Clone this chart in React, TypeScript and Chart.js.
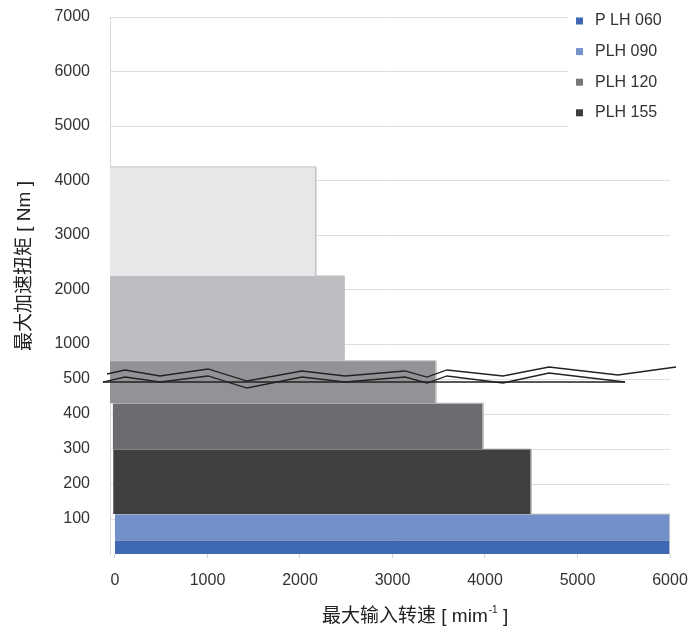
import React, { useEffect, useRef } from "react";
import { Chart, registerables } from "chart.js";

Chart.register(...registerables);

// ---- axes ----
const speedTicks = [0, 1000, 2000, 3000, 4000, 5000, 6000];
const speedTickLabels = ["0", "1000", "2000", "3000", "4000", "5000", "6000"];
const torqueTicks = [100, 200, 300, 400, 500, 1000, 2000, 3000, 4000, 5000, 6000, 7000];
const torqueTickLabels = ["100", "200", "300", "400", "500", "1000", "2000", "3000", "4000", "5000", "6000", "7000"];
// broken torque axis: torque values and their positions on the compressed axis
const breakTorque = [0, 500, 1000, 7000];
const breakAxis = [0, 5, 6, 15.343];
const speedMin = -54;
const speedMax = 6000;

// ---- bands (torque top / bottom, speed start / end) ----
const bandTop = [4250, 2250, 760, 431, 300, 114, 40];
const bandBottom = [2250, 760, 431, 300, 114, 40, 0];
const bandStart = [-54, -54, -54, -25, -20, 0, 0];
const bandEnd = [2170, 2480, 3470, 3980, 4500, 6000, 6000];
const bandColors = ["#e6e7e8", "#bcbdc0", "#929396", "#6b6c70", "#404040", "#7291c8", "#3f68b4"];

// ---- legend ----
const legendLabels = ["P LH 060", "PLH 090", "PLH 120", "PLH 155"];
const legendColors = ["#3f66b2", "#7393c9", "#777777", "#3c3c3c"];

// ---- axis-break marks (speed, axis units) ----
const breakUpperX = [-86, 108, 486, 1005, 1427, 2021, 2486, 3135, 3373, 3589, 4194, 4692, 5437, 6065];
const breakUpperY = [5.143, 5.257, 5.086, 5.286, 4.943, 5.229, 5.086, 5.229, 5.057, 5.257, 5.086, 5.343, 5.114, 5.343];
const breakLowerX = [-130, 108, 486, 1005, 1427, 2021, 2486, 3135, 3373, 3589, 4194, 4692, 5513];
const breakLowerY = [4.914, 5.057, 4.914, 5.086, 4.743, 5.057, 4.914, 5.057, 4.886, 5.086, 4.886, 5.171, 4.914];
const breakBaseX = [-130, 5513];
const breakBaseY = [4.914, 4.914];

function toAxis(v: number): number {
  for (let i = 0; i < breakTorque.length - 1; i++) {
    const a = breakTorque[i];
    const b = breakTorque[i + 1];
    if (v <= b || i === breakTorque.length - 2) {
      return breakAxis[i] + ((v - a) / (b - a)) * (breakAxis[i + 1] - breakAxis[i]);
    }
  }
  return v;
}

const FONT = "'Liberation Sans', 'Noto Sans CJK SC', sans-serif";

const decorPlugin = {
  id: "decor",
  afterDraw(chart: any) {
    const ctx: CanvasRenderingContext2D = chart.ctx;
    const area = chart.chartArea;
    ctx.save();
    // legend box
    ctx.fillStyle = "#ffffff";
    ctx.fillRect(area.right - 102, 0, 200, 138);
    ctx.font = `16px ${FONT}`;
    ctx.textBaseline = "middle";
    ctx.textAlign = "left";
    legendLabels.forEach((t, i) => {
      const cy = 21 + i * 30.6;
      ctx.fillStyle = legendColors[i];
      ctx.fillRect(area.right - 94, cy - 3.5, 7, 7);
      ctx.fillStyle = "#333333";
      ctx.fillText(t, area.right - 75, cy);
    });

    // x title with superscript
    ctx.fillStyle = "#222222";
    ctx.font = `19px ${FONT}`;
    const xa = "最大输入转速 [ mim";
    let x = 322;
    const y = 617;
    ctx.fillText(xa, x, y);
    x += ctx.measureText(xa).width + 1;
    ctx.font = `10px ${FONT}`;
    ctx.fillText("-1", x, y - 7);
    x += ctx.measureText("-1").width;
    ctx.font = `19px ${FONT}`;
    ctx.fillText(" ]", x, y);

    // y title
    ctx.translate(25, 266);
    ctx.rotate(-Math.PI / 2);
    ctx.textAlign = "center";
    ctx.fillText("最大加速扭矩 [ Nm ]", 0, 0);
    ctx.restore();
  },
};

export default function App() {
  const ref = useRef<HTMLCanvasElement | null>(null);

  useEffect(() => {
    if (!ref.current) return;

    const bandSets = bandTop.map((top, i) => ({
      label: "band" + i,
      data: [
        { x: bandStart[i], y: toAxis(top) },
        { x: bandEnd[i], y: toAxis(top) },
        { x: bandEnd[i], y: toAxis(bandBottom[i]) },
      ],
      backgroundColor: bandColors[i],
      borderColor: "#c4c4c4",
      borderWidth: 1,
      pointRadius: 0,
      tension: 0,
      fill: { value: toAxis(bandBottom[i]) },
      order: 2,
    }));

    const mk = (xs: number[], ys: number[], w: number) => ({
      label: "break",
      data: xs.map((xv, i) => ({ x: xv, y: ys[i] })),
      borderColor: "#222222",
      borderWidth: w,
      pointRadius: 0,
      tension: 0,
      fill: false,
      clip: false as any,
      order: 0,
    });

    const chart = new Chart(ref.current, {
      type: "line",
      data: {
        datasets: [
          mk(breakUpperX, breakUpperY, 1.3),
          mk(breakLowerX, breakLowerY, 1.3),
          mk(breakBaseX, breakBaseY, 1.6),
          ...bandSets,
        ] as any,
      },
      options: {
        animation: false,
        responsive: false,
        layout: { padding: { top: 17, right: 21, left: 0, bottom: 0 } },
        plugins: {
          legend: { display: false },
          tooltip: { enabled: false },
        },
        scales: {
          x: {
            type: "linear",
            min: speedMin,
            max: speedMax,
            afterBuildTicks: (s: any) => {
              s.ticks = speedTicks.map((v) => ({ value: v }));
            },
            afterFit: (s: any) => {
              s.height = 74;
              s.paddingLeft = 0;
              s.paddingRight = 0;
            },
            ticks: {
              autoSkip: false,
              maxRotation: 0,
              padding: 13,
              color: "#333333",
              font: { family: FONT, size: 16 },
              callback: (_v: any, i: number) => speedTickLabels[i],
            },
            grid: { drawOnChartArea: false, drawTicks: true, tickLength: 4, color: "#d6d6d6" },
            border: { display: false },
          },
          y: {
            type: "linear",
            min: 0,
            max: breakAxis[breakAxis.length - 1],
            afterBuildTicks: (s: any) => {
              s.ticks = torqueTicks.map((v) => ({ value: toAxis(v) }));
            },
            afterFit: (s: any) => {
              s.width = 110;
              s.paddingTop = 0;
              s.paddingBottom = 0;
            },
            ticks: {
              autoSkip: false,
              padding: 20,
              color: "#333333",
              font: { family: FONT, size: 16 },
              callback: (_v: any, i: number) => torqueTickLabels[i],
            },
            grid: { drawTicks: false, color: "#dedede", lineWidth: 1 },
            border: { display: true, color: "#d6d6d6" },
          },
        },
      } as any,
      plugins: [decorPlugin],
    });

    return () => chart.destroy();
  }, []);

  return (
    <div style={{ position: "fixed", left: 0, top: 0, width: 691, height: 628, background: "#fff" }}>
      <canvas ref={ref} width={691} height={628} style={{ width: 691, height: 628, display: "block" }} />
    </div>
  );
}
